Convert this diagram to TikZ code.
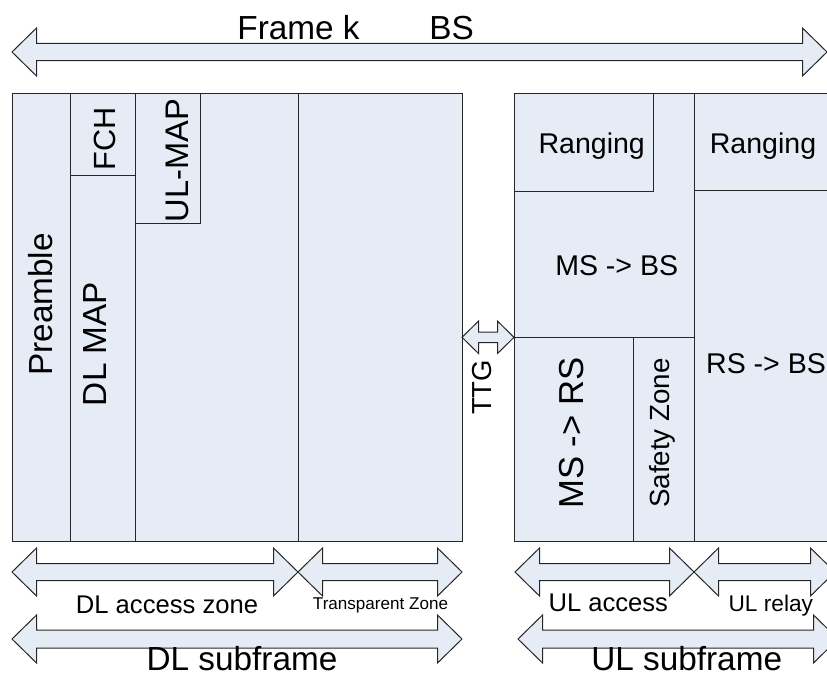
\documentclass[tikz,border=0pt]{standalone}
\usepackage{fontspec}
\setmainfont{Liberation Sans}
\definecolor{zonefill}{RGB}{230,236,246}
\newcommand{\fsz}[1]{\fontsize{#1}{#1}\selectfont}
% #1 left, #2 right, #3 middle, #4 half shaft, #5 half head, #6 head length
\newcommand{\dblarrow}[6]{%
\filldraw[zone] (#1,#3)--({#1+#6},{#3-#5})--({#1+#6},{#3-#4})--({#2-#6},{#3-#4})--({#2-#6},{#3-#5})--(#2,#3)
--({#2-#6},{#3+#5})--({#2-#6},{#3+#4})--({#1+#6},{#3+#4})--({#1+#6},{#3+#5})--cycle;}
\begin{document}
\begin{tikzpicture}[x=0.75pt, y=-0.75pt, line join=miter,
  zone/.style={fill=zonefill, draw=black!85, line width=0.75pt},
  lbl/.style={inner sep=0pt, anchor=base},
  vlbl/.style={lbl, rotate=90}]
\useasboundingbox (0,0) rectangle (827,678);
\clip (0,0) rectangle (827,678);
\dblarrow{12}{827}{52}{8.7}{24}{24.5}
\node[lbl] (frame) at (298.5,39) {\fsz{25pt}Frame k};
\node[lbl] (bs) at (451.5,39) {\fsz{25pt}BS};
% DL subframe
\filldraw[zone] (12,93) rectangle (462,541);
\draw[zone] (70,93)--(70,541) (135,93)--(135,541) (298,93)--(298,541) (70,175)--(135,175);
\filldraw[zone] (135,93) rectangle (200,223);
\node[vlbl] (preamble) at (52,304.5) {\fsz{25pt}Preamble};
\node[vlbl] (dlmap) at (106.7,344) {\fsz{25pt}DL MAP};
\node[vlbl] (fch) at (115,139) {\fsz{23pt}FCH};
\node[vlbl] (ulmap) at (188,160.5) {\fsz{24.5pt}UL-MAP};
% TTG
\dblarrow{462}{514}{337.3}{5.3}{16.2}{16.5}
\node[vlbl] (ttg) at (491.7,387.5) {\fsz{20.6pt}TTG};
% UL subframe
\filldraw[zone] (514,93) rectangle (840,541);
\filldraw[zone] (514,93) rectangle (653,191);
\draw[zone] (694,93)--(694,541) (694,190)--(840,190) (514,337.3)--(694,337.3) (633,337.3)--(633,541);
\node[lbl] (rng1) at (591.7,153.3) {\fsz{21.4pt}Ranging};
\node[lbl] (rng2) at (763,153.3) {\fsz{21.4pt}Ranging};
\node[lbl] (msbs) at (616.7,275) {\fsz{21.4pt}MS -> BS};
\node[vlbl] (msrs) at (583,433) {\fsz{26pt}MS -> RS};
\node[vlbl] (safety) at (669,433) {\fsz{20.8pt}Safety Zone};
\node[lbl] (rsbs) at (766,373.3) {\fsz{21.4pt}RS -> BS};
% zone arrows
\dblarrow{12}{298}{572}{8.5}{24}{24.5}
\dblarrow{298}{462}{572}{8.5}{24}{24.5}
\dblarrow{12}{462}{639}{9}{24}{24.5}
\dblarrow{515}{694}{572}{8.5}{24}{24.5}
\dblarrow{694}{835}{572}{8.5}{24}{24.5}
\dblarrow{518}{838}{639}{9}{24}{24.5}
\node[lbl] (dlacc) at (167,613) {\fsz{19.2pt}DL access zone};
\node[lbl] (transp) at (380.5,609.5) {\fsz{12.8pt}Transparent Zone};
\node[lbl] (dlsub) at (242,670) {\fsz{25pt}DL subframe};
\node[lbl] (ulacc) at (608.3,611.7) {\fsz{19.2pt}UL access};
\node[lbl] (ulrel) at (770.8,611.7) {\fsz{17pt}UL relay};
\node[lbl] (ulsub) at (686.7,670) {\fsz{25pt}UL subframe};
\end{tikzpicture}
\end{document}
